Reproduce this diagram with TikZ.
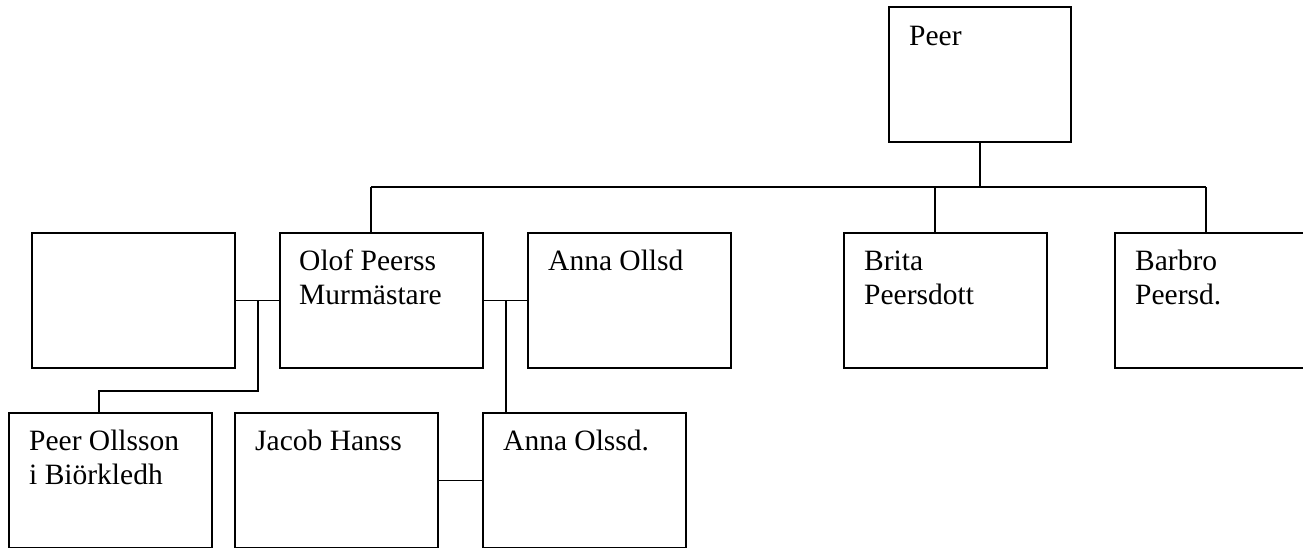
\documentclass[tikz,border=0pt]{standalone}
\usepackage{fontspec}
\setmainfont{Liberation Serif}
\begin{document}
\begin{tikzpicture}[x=1pt,y=-1pt,
  person/.style={draw, line width=1.5pt, minimum width=203pt, minimum height=135pt,
    anchor=north west, inner sep=0pt, outer sep=0pt},
  pname/.style={anchor=base west, font=\fontsize{29.5}{34}\selectfont, align=left, inner sep=0pt},
  link/.style={line width=1.5pt}]
\useasboundingbox (0,0) rectangle (1303,547);
\clip (0,0) rectangle (1303,547);
% boxes
\node[person, minimum width=182pt] (peer) at (889,7) {};
\node[person] (left0) at (32,233) {};
\node[person] (olof) at (280,233) {};
\node[person] (annaA) at (528,233) {};
\node[person] (brita) at (844,233) {};
\node[person] (barbro) at (1115,233) {};
\node[person] (pol) at (9,413) {};
\node[person] (jacob) at (235,413) {};
\node[person] (annaB) at (483,413) {};
% names (base anchor = baseline of the last line)
\node[pname] (tpeer) at ([xshift=20pt,yshift=-38pt]peer.north west) {Peer};
\node[pname] (tolof) at ([xshift=19pt,yshift=-71pt]olof.north west) {Olof Peerss\\Murmästare};
\node[pname] (tannaA) at ([xshift=20pt,yshift=-37pt]annaA.north west) {Anna Ollsd};
\node[pname] (tbrita) at ([xshift=20pt,yshift=-71pt]brita.north west) {Brita\\Peersdott};
\node[pname] (tbarbro) at ([xshift=20pt,yshift=-71pt]barbro.north west) {Barbro\\Peersd.};
\node[pname] (tpol) at ([xshift=20pt,yshift=-71pt]pol.north west) {Peer Ollsson\\i Biörkledh};
\node[pname] (tjacob) at ([xshift=20pt,yshift=-37pt]jacob.north west) {Jacob Hanss};
\node[pname] (tannaB) at ([xshift=20pt,yshift=-37pt]annaB.north west) {Anna Olssd.};
% junction coordinates
\coordinate (bus) at (0,187);
\coordinate (jL) at (258,300);
\coordinate (jLd) at (258,391);
\coordinate (jR) at (506,300);
\coordinate (xolof) at (371,0);
\coordinate (xbrita) at (935,0);
\coordinate (xbarbro) at (1206,0);
\coordinate (xpol) at (99,0);
% connectors
\draw[link] (peer.south) -- (peer.south |- bus);
\draw[link] (xolof |- bus) -- (xbarbro |- bus);
\draw[link] (xolof |- bus) -- (xolof |- olof.north);
\draw[link] (xbrita |- bus) -- (xbrita |- brita.north);
\draw[link] (xbarbro |- bus) -- (xbarbro |- barbro.north);
\draw[link] (left0.east) -- (olof.west);
\draw[link] (jL) -- (jLd) -- (xpol |- jLd) -- (xpol |- pol.north);
\draw[link] (olof.east) -- (annaA.west);
\draw[link] (jR) -- (jR |- annaB.north);
\draw[link] (jacob.east) -- (annaB.west);
\end{tikzpicture}
\end{document}
